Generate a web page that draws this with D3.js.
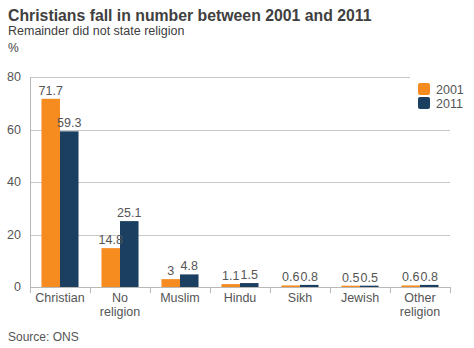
<!DOCTYPE html>
<html><head><meta charset="utf-8">
<script src="https://cdn.jsdelivr.net/npm/d3@7"></script>
<style>
body{margin:0;background:#fff;}
text{font-family:"Liberation Sans",Arial,sans-serif;}
</style></head>
<body><svg id="c" width="474" height="348"></svg>
<script>
const categories = [["Christian"],["No","religion"],["Muslim"],["Hindu"],["Sikh"],["Jewish"],["Other","religion"]];
const series = ["2001","2011"];
const values2001 = [71.7,14.8,3,1.1,0.6,0.5,0.6];
const values2011 = [59.3,25.1,4.8,1.5,0.8,0.5,0.8];
const yTicks = [0,20,40,60,80];
const colors = ["#f68b1f","#1b3f60"];

const svg = d3.select("#c");
const L=30,R=450,T=77,B=287;
const x = d3.scaleBand().domain(d3.range(categories.length)).range([L,R]).paddingInner(0).paddingOuter(0);
const xs = d3.scaleBand().domain(series).range([0,x.bandwidth()]).paddingInner(0).paddingOuter(0.62);
const y = d3.scaleLinear().domain([0,80]).range([B,T]);

svg.append("text").attr("x",8).attr("y",21).attr("font-size",15.8).attr("font-weight","bold").attr("fill","#404040").text("Christians fall in number between 2001 and 2011");
svg.append("text").attr("x",8).attr("y",35).attr("font-size",12.5).attr("fill","#404040").text("Remainder did not state religion");
svg.append("text").attr("x",8).attr("y",52).attr("font-size",12).attr("fill","#404040").text("%");

// grid
svg.append("g").selectAll("line").data(yTicks.filter(d=>d>0)).join("line")
 .attr("x1",L).attr("x2",d=>d===80?410:R).attr("y1",d=>Math.round(y(d))+0.5).attr("y2",d=>Math.round(y(d))+0.5)
 .attr("stroke","#c8c8c8");
// y axis
svg.append("line").attr("x1",L+0.5).attr("x2",L+0.5).attr("y1",T).attr("y2",B).attr("stroke","#b8b8b8");
svg.append("g").selectAll("text").data(yTicks).join("text")
 .attr("x",21).attr("y",d=>y(d)+4).attr("text-anchor","end").attr("font-size",12.5).attr("fill","#555").text(d=>d);

const data = categories.map((c,i)=>({i, vals:[values2001[i],values2011[i]]}));
const g = svg.append("g").selectAll("g").data(data).join("g").attr("transform",d=>`translate(${x(d.i)},0)`);
g.selectAll("rect").data(d=>d.vals.map((v,k)=>({v,k}))).join("rect")
 .attr("x",d=>xs(series[d.k])).attr("width",xs.bandwidth())
 .attr("y",d=>y(d.v)).attr("height",d=>B-y(d.v)).attr("fill",d=>colors[d.k]);
g.selectAll("text.v").data(d=>d.vals.map((v,k)=>({v,k}))).join("text").attr("class","v")
 .attr("x",d=>xs(series[d.k])+xs.bandwidth()/2).attr("y",d=>y(d.v)-4)
 .attr("text-anchor","middle").attr("font-size",12.5).attr("fill","#555").text(d=>d.v);

// x axis
svg.append("line").attr("x1",L).attr("x2",R+1).attr("y1",B+0.5).attr("y2",B+0.5).attr("stroke","#b8b8b8");
svg.append("g").selectAll("line").data(d3.range(categories.length+1)).join("line")
 .attr("x1",d=>L+d*x.bandwidth()+0.5).attr("x2",d=>L+d*x.bandwidth()+0.5).attr("y1",B).attr("y2",B+6).attr("stroke","#b8b8b8");
const cl = svg.append("g").selectAll("text").data(categories).join("text")
 .attr("x",(d,i)=>x(i)+x.bandwidth()/2).attr("y",302).attr("text-anchor","middle").attr("font-size",12.5).attr("fill","#555");
cl.selectAll("tspan").data(d=>d).join("tspan").attr("x",function(){return this.parentNode.getAttribute("x");})
 .attr("dy",(d,i)=>i?14:0).text(d=>d);

// legend
const lg = svg.append("g").selectAll("g").data(series).join("g").attr("transform",(d,i)=>`translate(418,${83+i*14})`);
lg.append("rect").attr("width",12).attr("height",12).attr("rx",2).attr("fill",(d,i)=>colors[i]);
lg.append("text").attr("x",18).attr("y",10.5).attr("font-size",12.5).attr("fill","#555").text(d=>d);

svg.append("text").attr("x",8).attr("y",341).attr("font-size",12).attr("fill","#555").text("Source: ONS");
</script></body></html>
